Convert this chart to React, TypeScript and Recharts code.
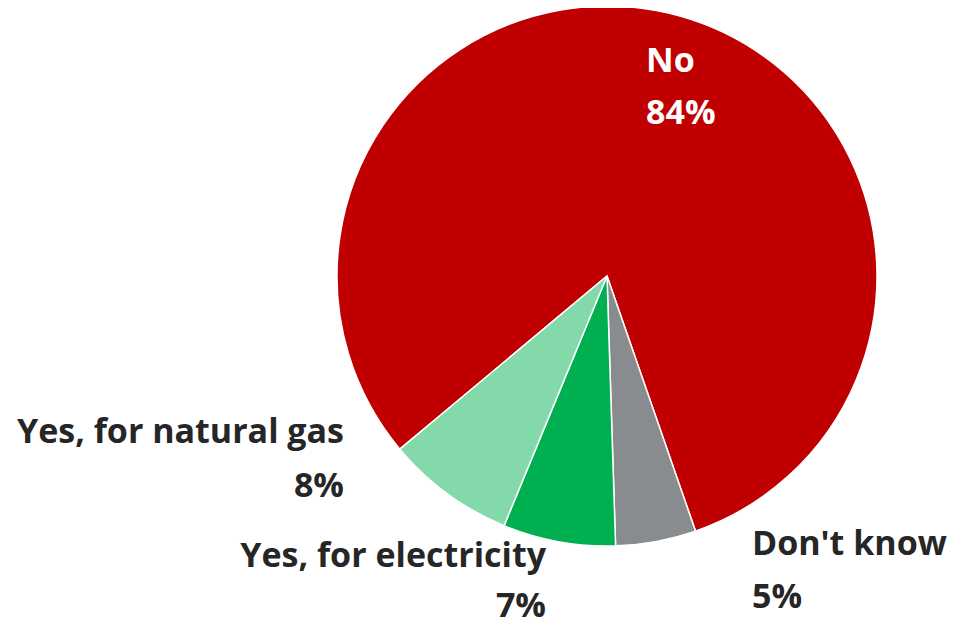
import React from 'react';
import { PieChart, Pie, Cell } from 'recharts';

const categories = ['No', "Don't know", 'Yes, for electricity', 'Yes, for natural gas'];
const shares = [84, 5, 7, 8];
const colors = ['#C00000', '#898C8E', '#00B050', '#84D9AA'];

const data = categories.map((name, i) => ({ name, value: shares[i] }));

// label placement per slice: x, anchor, first baseline, line gap, fill
const labelPos = [
  { x: 646, anchor: 'start', y: 72, gap: 52, fill: '#FFFFFF' },
  { x: 752, anchor: 'start', y: 555, gap: 53, fill: '#262626' },
  { x: 546, anchor: 'end', y: 567, gap: 50, fill: '#262626' },
  { x: 344, anchor: 'end', y: 443, gap: 54, fill: '#262626' },
];

const renderLabel = (props: any) => {
  const p = labelPos[props.index];
  const style = { fontFamily: '"Open Sans", sans-serif', fontWeight: 700, fontSize: 34 };
  return (
    <g key={props.index}>
      <text x={p.x} y={p.y} textAnchor={p.anchor} fill={p.fill} style={style}>{props.name}</text>
      <text x={p.x} y={p.y + p.gap} textAnchor={p.anchor} fill={p.fill} style={style}>{props.value}%</text>
    </g>
  );
};

export default function App() {
  return (
    <div style={{ margin: -8, width: 955, height: 627, background: '#fff' }}>
      <PieChart width={955} height={627} margin={{ top: 0, right: 0, bottom: 0, left: 0 }}>
        <Pie
          data={data}
          dataKey="value"
          nameKey="name"
          cx={607}
          cy={276}
          outerRadius={270}
          startAngle={-140.1}
          endAngle={-500.1}
          stroke="#FFFFFF"
          strokeWidth={1.5}
          label={renderLabel}
          labelLine={false}
          isAnimationActive={false}
        >
          {data.map((d, i) => <Cell key={d.name} fill={colors[i]} />)}
        </Pie>
      </PieChart>
    </div>
  );
}
